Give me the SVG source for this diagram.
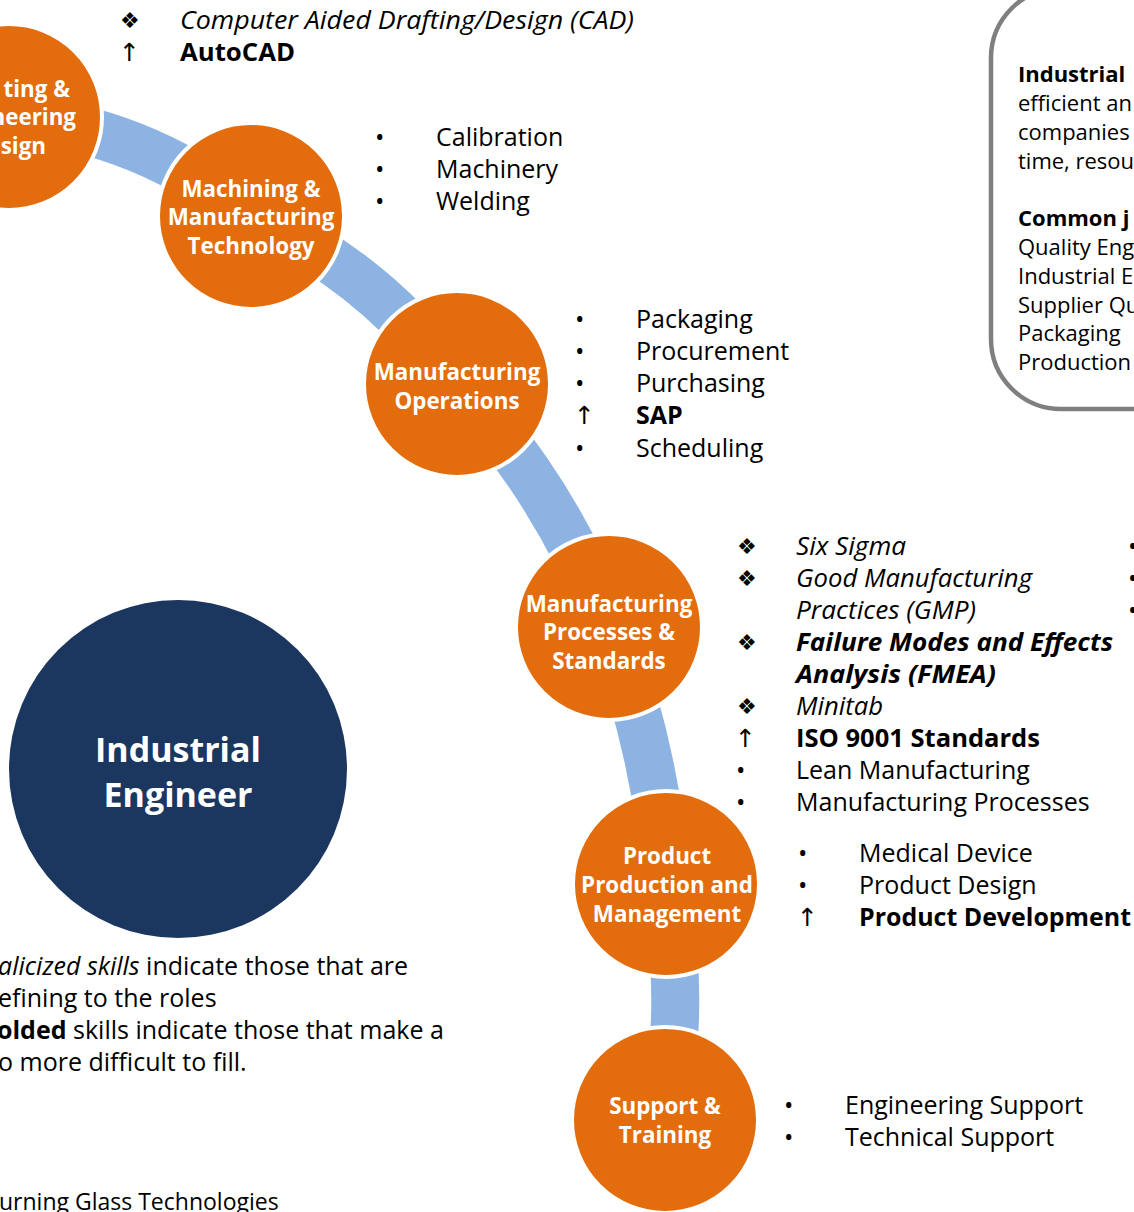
<svg xmlns="http://www.w3.org/2000/svg" width="1134" height="1212" viewBox="0 0 1134 1212">
<style>
text{font-family:"Open Sans","Noto Sans","DejaVu Sans",sans-serif;fill:#000}
.t{font-size:25px}
.bx{font-size:22px}
.lbl{font-size:22.4px;font-weight:bold;fill:#fff;text-anchor:middle}
.big{font-size:34px;font-weight:bold;fill:#fff;text-anchor:middle}
.sym{font-family:"DejaVu Sans",sans-serif;font-size:22px}
.b{font-weight:bold}
.i{font-style:italic}
.node{fill:#E36C0D;stroke:#fff;stroke-width:4}
.conn{fill:none;stroke:#8DB3E2;stroke-width:48}
</style>
<rect width="1134" height="1212" fill="#fff"/>
<g id="connectors">
<path class="conn" d="M 9 117 Q 146 130 251 216"/>
<path class="conn" d="M 251 216 Q 377 272 457 384"/>
<path class="conn" d="M 457 384 Q 556 490 609 627"/>
<path class="conn" d="M 609 627 Q 657 752 666 884"/>
<path class="conn" d="M 666 884 Q 685 1002 665 1120"/>
</g>
<g id="summary-box">
<rect x="991" y="-12" width="300" height="421" rx="70" fill="#fff" stroke="#7F7F7F" stroke-width="4.5"/>
<text class="bx b" x="1018" y="82">Industrial</text>
<text class="bx" x="1018" y="111">efficient an</text>
<text class="bx" x="1018" y="140">companies</text>
<text class="bx" x="1018" y="169">time, resou</text>
<text class="bx b" x="1018" y="226">Common j</text>
<text class="bx" x="1018" y="255">Quality Eng</text>
<text class="bx" x="1018" y="284">Industrial E</text>
<text class="bx" x="1018" y="313">Supplier Qu</text>
<text class="bx" x="1018" y="341">Packaging</text>
<text class="bx" x="1018" y="370">Production</text>
</g>
<g id="node-drafting">
<circle class="node" cx="9" cy="117" r="93"/>
<text class="lbl" x="70" y="97" style="text-anchor:end">ting &amp;</text>
<text class="lbl" x="76" y="125" style="text-anchor:end">neering</text>
<text class="lbl" x="46" y="154" style="text-anchor:end">sign</text>
</g>
<g id="list-drafting">
<text class="sym" x="120" y="28">❖</text>
<text class="t i" x="180" y="29" textLength="454" lengthAdjust="spacingAndGlyphs">Computer Aided Drafting/Design (CAD)</text>
<text class="t" x="119" y="61">↑</text>
<text class="t b" x="180" y="61" textLength="115" lengthAdjust="spacingAndGlyphs">AutoCAD</text>
</g>
<g id="node-machining">
<circle class="node" cx="251" cy="216" r="93"/>
<text class="lbl" x="251" y="197">Machining &amp;</text>
<text class="lbl" x="251" y="225">Manufacturing</text>
<text class="lbl" x="251" y="254">Technology</text>
</g>
<g id="list-machining">
<text class="t" x="375" y="146">•</text><text class="t" x="436" y="146">Calibration</text>
<text class="t" x="375" y="178">•</text><text class="t" x="436" y="178">Machinery</text>
<text class="t" x="375" y="210">•</text><text class="t" x="436" y="210">Welding</text>
</g>
<g id="node-operations">
<circle class="node" cx="457" cy="384" r="93"/>
<text class="lbl" x="457" y="380">Manufacturing</text>
<text class="lbl" x="457" y="409">Operations</text>
</g>
<g id="list-operations">
<text class="t" x="575" y="328">•</text><text class="t" x="636" y="328">Packaging</text>
<text class="t" x="575" y="360">•</text><text class="t" x="636" y="360">Procurement</text>
<text class="t" x="575" y="392">•</text><text class="t" x="636" y="392">Purchasing</text>
<text class="t" x="574" y="424">↑</text><text class="t b" x="636" y="424">SAP</text>
<text class="t" x="575" y="457">•</text><text class="t" x="636" y="457">Scheduling</text>
</g>
<g id="node-processes">
<circle class="node" cx="609" cy="627" r="93"/>
<text class="lbl" x="609" y="612">Manufacturing</text>
<text class="lbl" x="609" y="640">Processes &amp;</text>
<text class="lbl" x="609" y="669">Standards</text>
</g>
<g id="list-processes">
<text class="sym" x="737" y="554">❖</text><text class="t i" x="796" y="555" textLength="110" lengthAdjust="spacingAndGlyphs">Six Sigma</text>
<text class="sym" x="737" y="586">❖</text><text class="t i" x="796" y="587" textLength="236" lengthAdjust="spacingAndGlyphs">Good Manufacturing</text>
<text class="t i" x="796" y="619" textLength="180" lengthAdjust="spacingAndGlyphs">Practices (GMP)</text>
<text class="sym" x="737" y="650">❖</text><text class="t i b" x="796" y="651" textLength="317" lengthAdjust="spacingAndGlyphs">Failure Modes and Effects</text>
<text class="t i b" x="796" y="683" textLength="200" lengthAdjust="spacingAndGlyphs">Analysis (FMEA)</text>
<text class="sym" x="737" y="714">❖</text><text class="t i" x="796" y="715" textLength="87" lengthAdjust="spacingAndGlyphs">Minitab</text>
<text class="t" x="735" y="747">↑</text><text class="t b" x="796" y="747" textLength="244" lengthAdjust="spacingAndGlyphs">ISO 9001 Standards</text>
<text class="t" x="736" y="779">•</text><text class="t" x="796" y="779">Lean Manufacturing</text>
<text class="t" x="736" y="811">•</text><text class="t" x="796" y="811">Manufacturing Processes</text>
<text class="t" x="1128" y="555">•</text>
<text class="t" x="1128" y="587">•</text>
<text class="t" x="1128" y="619">•</text>
</g>
<g id="node-product">
<circle class="node" cx="666" cy="884" r="93"/>
<text class="lbl" x="667" y="864">Product</text>
<text class="lbl" x="667" y="893">Production and</text>
<text class="lbl" x="667" y="922">Management</text>
</g>
<g id="list-product">
<text class="t" x="798" y="862">•</text><text class="t" x="859" y="862">Medical Device</text>
<text class="t" x="798" y="894">•</text><text class="t" x="859" y="894">Product Design</text>
<text class="t" x="797" y="926">↑</text><text class="t b" x="859" y="926" textLength="272" lengthAdjust="spacingAndGlyphs">Product Development</text>
</g>
<g id="node-support">
<circle class="node" cx="665" cy="1120" r="93"/>
<text class="lbl" x="665" y="1114">Support &amp;</text>
<text class="lbl" x="665" y="1143">Training</text>
</g>
<g id="list-support">
<text class="t" x="784" y="1114">•</text><text class="t" x="845" y="1114">Engineering Support</text>
<text class="t" x="784" y="1146">•</text><text class="t" x="845" y="1146">Technical Support</text>
</g>
<g id="node-center">
<circle cx="178" cy="769" r="169" fill="#1B375F"/>
<text class="big" x="178" y="762">Industrial</text>
<text class="big" x="178" y="807">Engineer</text>
</g>
<g id="legend">
<text class="t" x="-2" y="975"><tspan class="i">alicized skills</tspan> indicate those that are</text>
<text class="t" x="-2" y="1007">efining to the roles</text>
<text class="t" x="-3" y="1039"><tspan class="b">olded</tspan> skills indicate those that make a</text>
<text class="t" x="-2" y="1071">o more difficult to fill.</text>
<text class="bx" x="-1" y="1210" style="font-size:23px">urning Glass Technologies</text>
</g>
</svg>
